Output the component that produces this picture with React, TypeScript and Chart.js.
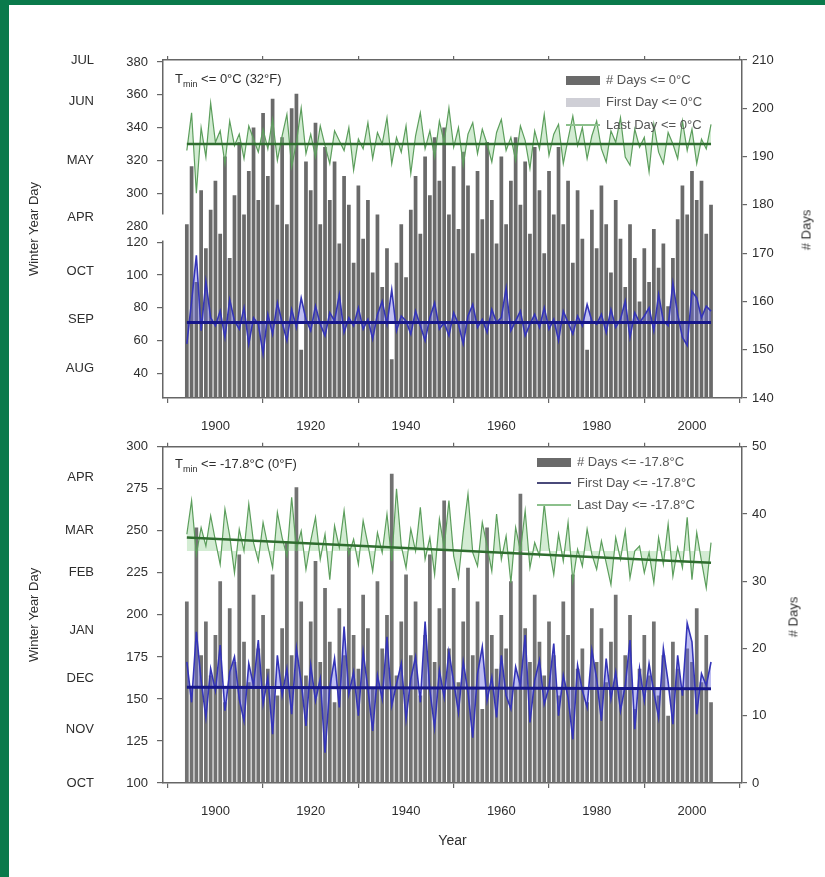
import React, { useEffect, useRef } from "react";
import { Chart, registerables } from "chart.js";
Chart.register(...registerables);

const FIRST_YEAR = 1894;

// Top panel: Tmin <= 0°C
const daysTop = [
  176, 188, 164, 183, 171, 179,
  185, 174, 190, 169, 182, 193, 178, 187, 196, 181,
  199, 186, 202, 180, 194, 176, 200, 203, 150, 189,
  183, 197, 176, 192, 181, 189, 172, 186, 180, 168,
  184, 173, 181, 166, 178, 163, 171, 148, 168, 176,
  165, 179, 186, 174, 190, 182, 194, 185, 196, 178,
  188, 175, 191, 184, 170, 187, 177, 193, 181, 172,
  190, 176, 185, 194, 180, 189, 174, 192, 183, 170,
  187, 178, 192, 176, 185, 168, 183, 173, 150, 179,
  171, 184, 176, 166, 181, 173, 163, 176, 169, 160,
  171, 164, 175, 167, 172, 159, 169, 177, 184, 178,
  187, 181, 185, 174, 180,
];
const lastTop = [
  326, 349, 300, 340, 322, 355,
  331, 338, 318, 344, 329, 336, 321, 341, 333, 325,
  339, 327, 345, 320, 335, 348, 316, 331, 352, 324,
  336, 322, 341, 329, 318, 338, 332, 326, 340, 314,
  333, 327, 343, 321, 337, 330, 346, 318, 334, 325,
  341, 312, 335, 349, 327, 338, 322, 344, 331, 352,
  328, 340, 317, 336, 343, 324, 339, 330, 319, 337,
  345, 326, 334, 320, 341, 332, 315, 338, 327, 348,
  323, 336, 342, 318, 333, 347, 329, 340, 321, 335,
  344, 327, 319, 338, 331, 346, 322, 317, 339, 328,
  334, 313, 342, 325, 318, 337, 330, 321, 344, 326,
  339, 318, 333, 327, 342,
];
const firstTop = [
  58, 84, 112, 66, 96, 74,
  69, 78, 62, 85, 72, 67, 80, 58, 74, 70,
  52, 76, 64, 83, 71, 60, 79, 68, 86, 73,
  66, 81, 70, 63, 77, 72, 88, 65, 74, 69,
  80, 67, 73, 61, 76, 84, 70, 91, 66, 75,
  72, 64, 78, 69, 60, 74, 83, 67, 71, 63,
  77, 70, 58, 75, 82, 68, 73, 65, 79, 71,
  74, 92, 66, 72, 78, 63, 70, 76, 68, 80,
  67, 73, 60, 78, 71, 64, 75, 69, 82, 72,
  70, 76, 65, 79, 68, 73, 84, 62, 77, 71,
  75, 80, 66, 88, 72, 69, 95, 76, 62, 57,
  90, 86, 74, 81, 78,
];

// Bottom panel: Tmin <= -17.8°C
const daysBot = [
  27, 14, 38, 19, 24, 16,
  22, 30, 12, 26, 18, 34, 21, 15, 28, 20,
  25, 17, 31, 13, 23, 36, 19, 44, 27, 16,
  24, 33, 18, 29, 21, 12, 26, 19, 35, 22,
  17, 28, 23, 14, 30, 20, 25, 46, 16, 24,
  31, 19, 27, 13, 22, 34, 18, 26, 42, 20,
  29, 15, 24, 32, 19, 27, 11, 38, 22, 17,
  25, 20, 30, 14, 43, 23, 18, 28, 21, 16,
  24, 19, 13, 27, 22, 31, 17, 20, 12, 26,
  18, 23, 15, 21, 28, 14, 19, 25, 11, 17,
  22, 16, 24, 13, 19, 10, 21, 17, 14, 20,
  18, 26, 15, 22, 12,
];
const lastBot = [
  248, 268, 236, 252, 241, 259,
  244, 230, 263, 247, 225, 251, 238, 266, 243, 232,
  255, 241, 228, 261, 246, 235, 270, 239, 250, 227,
  244, 258, 233, 248, 221, 253, 240, 262, 236, 245,
  230, 256, 242, 226, 249, 237, 260, 232, 275, 241,
  228, 251, 238, 264, 233, 246, 224, 257, 240, 268,
  235, 222, 249, 272, 237, 229, 255, 241, 226, 260,
  233, 247, 219, 252, 238, 262, 228, 243, 235, 266,
  240, 224, 248, 232, 255, 220, 239, 229, 251, 236,
  227, 244, 231, 218, 246, 233, 250, 222, 238, 241,
  225, 237, 219, 246, 230, 254, 223, 240, 228, 258,
  221, 249, 232, 216, 243,
];
const firstBot = [
  172, 148, 190, 161, 139, 168,
  155, 182, 143, 166, 175, 150, 137, 171, 158, 185,
  147, 163, 129, 176, 152, 168, 141, 180, 160, 134,
  170, 149, 162, 118, 157, 174, 145, 193, 153, 166,
  140, 178, 156, 131, 164, 150, 187, 146, 159, 171,
  138, 162, 175, 148, 196, 155, 133, 167, 151, 178,
  160, 142, 172, 154, 127, 165, 181, 149, 163, 139,
  176, 152, 144, 169, 158, 188, 136, 161, 173, 147,
  157, 183, 140, 164, 151, 126, 170, 155, 145, 179,
  162, 137, 174, 150, 166, 143, 158, 185, 132, 168,
  149, 171, 154, 139, 180, 160, 135, 176, 152, 195,
  184, 141, 165, 158, 172,
];

const years = daysTop.map((_, i) => FIRST_YEAR + i);
const trendYears = [1894, 2004];
const topLastTrend = [330, 330];
const topFirstTrend = [71, 71];
const botLastTrend = [246, 231];
const botFirstTrend = [157, 156];

const xTickYears = [1900, 1920, 1940, 1960, 1980, 2000];
const topUpperTicks = [280, 300, 320, 340, 360, 380];
const topLowerTicks = [40, 60, 80, 100, 120];
const topMonthNames = ["JUL", "JUN", "MAY", "APR", "OCT", "SEP", "AUG"];
const topMonthDays = [381, 356, 320, 285, 102, 73, 43];
const botMonthNames = ["APR", "MAR", "FEB", "JAN", "DEC", "NOV", "OCT"];
const botMonthDays = [282, 250, 225, 191, 162, 132, 100];

const X_MIN = 1889;
const X_MAX = 2010.5;
const TOP_LOW_MIN = 25;
const TOP_SPAN = 206.1;
const TOP_HIGH_MIN = 175.1;
const OFFSET = TOP_HIGH_MIN - TOP_LOW_MIN;
const BREAK_HIGH = 287;
const BREAK_LOW = 121;

const FONT = "'Liberation Sans', Arial, sans-serif";
const TXT = "#2e2e2e";
const AXIS = "#666";

const pts = (xs: number[], ys: number[]) => xs.map((x, i) => ({ x, y: ys[i] }));

function xScales(withTitle: boolean, bottomHeight: number) {
  return {
    x: {
      type: "linear",
      position: "bottom",
      min: X_MIN,
      max: X_MAX,
      offset: false,
      afterBuildTicks: (s: any) => {
        s.ticks = xTickYears.map((v) => ({ value: v }));
      },
      afterFit: (s: any) => {
        s.height = bottomHeight;
      },
      ticks: {
        callback: (v: any) => String(v),
        font: { size: 13, family: FONT },
        color: TXT,
        padding: 16,
        maxRotation: 0,
      },
      grid: { drawOnChartArea: false, tickLength: 5, color: AXIS, lineWidth: 1.2 },
      border: { color: AXIS, width: 1.5 },
      title: withTitle
        ? { display: true, text: "Year", font: { size: 14, family: FONT }, color: TXT, padding: { top: 0, bottom: 4 } }
        : { display: false },
    },
    x2: {
      type: "linear",
      position: "top",
      min: X_MIN,
      max: X_MAX,
      offset: false,
      afterBuildTicks: (s: any) => {
        s.ticks = xTickYears.map((v) => ({ value: v }));
      },
      afterFit: (s: any) => {
        s.height = 6;
      },
      ticks: { display: false },
      grid: { drawOnChartArea: false, tickLength: 4, color: AXIS, lineWidth: 1.2 },
      border: { color: AXIS, width: 1.5 },
    },
  };
}

function lineDs(data: any[], axis: string, color: string, width: number, fill: any, bg: string, order: number) {
  return {
    type: "line",
    data,
    yAxisID: axis,
    xAxisID: "x",
    borderColor: color,
    borderWidth: width,
    backgroundColor: bg,
    fill,
    pointRadius: 0,
    tension: 0,
    order,
  };
}

function barDs(data: any[], axis: string, color: string) {
  return {
    type: "bar",
    data,
    yAxisID: axis,
    xAxisID: "x",
    backgroundColor: color,
    barPercentage: 0.78,
    categoryPercentage: 1,
    order: 10,
  };
}

const axisBreak = {
  id: "axisBreak",
  afterDraw(chart: any) {
    const a = chart.chartArea;
    const hi = chart.scales.yHigh;
    const lo = chart.scales.yLow;
    if (!hi || !lo) return;
    const y1 = hi.getPixelForValue(BREAK_HIGH);
    const y2 = lo.getPixelForValue(BREAK_LOW);
    const ctx = chart.ctx;
    ctx.save();
    ctx.fillStyle = "#fff";
    ctx.fillRect(a.left - 8, y1, 9.5, y2 - y1);
    ctx.restore();
  },
};

function topConfig(): any {
  return {
    type: "bar",
    data: {
      datasets: [
        lineDs(pts(trendYears, topLastTrend), "yHigh", "#2f6d2f", 2.5, false, "transparent", 0),
        lineDs(pts(trendYears, topFirstTrend), "yLow", "#16168a", 3, false, "transparent", 0),
        lineDs(pts(years, lastTop), "yHigh", "#5c9e5c", 1.2, { value: topLastTrend[0] }, "rgba(140,205,140,0.38)", 1),
        lineDs(pts(years, firstTop), "yLow", "#3434b8", 1.6, { value: topFirstTrend[0] }, "rgba(100,100,225,0.4)", 1),
        barDs(pts(years, daysTop), "yR", "#6a6a6a"),
      ],
    },
    plugins: [axisBreak],
    options: {
      responsive: false,
      animation: false,
      layout: { padding: { left: 23, top: 54, right: 0, bottom: 0 } },
      plugins: { legend: { display: false }, tooltip: { enabled: false } },
      scales: {
        ...xScales(false, 42),
        yLow: { type: "linear", display: false, min: TOP_LOW_MIN, max: TOP_LOW_MIN + TOP_SPAN },
        yHigh: {
          type: "linear",
          position: "left",
          weight: 0,
          min: TOP_HIGH_MIN,
          max: TOP_HIGH_MIN + TOP_SPAN,
          afterBuildTicks: (s: any) => {
            s.ticks = topUpperTicks
              .map((v) => ({ value: v }))
              .concat(topLowerTicks.map((v) => ({ value: v + OFFSET })));
          },
          afterFit: (s: any) => {
            s.width = 58;
          },
          ticks: {
            callback: (v: any) => String(Math.round(v >= 275 ? v : v - OFFSET)),
            font: { size: 13, family: FONT },
            color: TXT,
            padding: 9,
          },
          grid: { drawOnChartArea: false, tickLength: 6, color: AXIS, lineWidth: 1.2 },
          border: { color: AXIS, width: 1.5 },
        },
        yMonth: {
          type: "linear",
          position: "left",
          weight: 1,
          min: TOP_HIGH_MIN,
          max: TOP_HIGH_MIN + TOP_SPAN,
          afterBuildTicks: (s: any) => {
            s.ticks = topMonthDays.map((v) => ({ value: v >= 275 ? v : v + OFFSET }));
          },
          afterFit: (s: any) => {
            s.width = 82;
          },
          ticks: {
            callback: (_v: any, i: number) => topMonthNames[i],
            font: { size: 13, family: FONT },
            color: TXT,
            padding: 3,
          },
          grid: { display: false },
          border: { display: false },
          title: {
            display: true,
            text: "Winter Year Day",
            font: { size: 13, family: FONT },
            color: TXT,
            padding: { top: 4, bottom: 0 },
          },
        },
        yR: {
          type: "linear",
          position: "right",
          min: 140,
          max: 210,
          afterFit: (s: any) => {
            s.width = 83;
          },
          ticks: { stepSize: 10, font: { size: 13, family: FONT }, color: TXT, padding: 5 },
          grid: { drawOnChartArea: false, tickLength: 5, color: AXIS, lineWidth: 1.2 },
          border: { color: AXIS, width: 1.5 },
        },
      },
    },
  };
}

function botConfig(): any {
  return {
    type: "bar",
    data: {
      datasets: [
        lineDs(pts(trendYears, botLastTrend), "y", "#2f6d2f", 2.5, false, "transparent", 0),
        lineDs(pts(trendYears, botFirstTrend), "y", "#16168a", 3, false, "transparent", 0),
        lineDs(pts(years, lastBot), "y", "#5c9e5c", 1.2, { value: 238 }, "rgba(140,205,140,0.38)", 1),
        lineDs(pts(years, firstBot), "y", "#3434b8", 1.6, { value: botFirstTrend[0] }, "rgba(100,100,225,0.42)", 1),
        barDs(pts(years, daysBot), "yR", "#727272"),
      ],
    },
    options: {
      responsive: false,
      animation: false,
      layout: { padding: { left: 23, top: 9, right: 0, bottom: 23 } },
      plugins: { legend: { display: false }, tooltip: { enabled: false } },
      scales: {
        ...xScales(true, 71),
        y: {
          type: "linear",
          position: "left",
          weight: 0,
          min: 100,
          max: 300,
          afterFit: (s: any) => {
            s.width = 58;
          },
          ticks: { stepSize: 25, font: { size: 13, family: FONT }, color: TXT, padding: 9 },
          grid: { drawOnChartArea: false, tickLength: 6, color: AXIS, lineWidth: 1.2 },
          border: { color: AXIS, width: 1.5 },
        },
        yMonth: {
          type: "linear",
          position: "left",
          weight: 1,
          min: 100,
          max: 300,
          afterBuildTicks: (s: any) => {
            s.ticks = botMonthDays.map((v) => ({ value: v }));
          },
          afterFit: (s: any) => {
            s.width = 82;
          },
          ticks: {
            callback: (_v: any, i: number) => botMonthNames[i],
            font: { size: 13, family: FONT },
            color: TXT,
            padding: 3,
          },
          grid: { display: false },
          border: { display: false },
          title: {
            display: true,
            text: "Winter Year Day",
            font: { size: 13, family: FONT },
            color: TXT,
            padding: { top: 4, bottom: 0 },
          },
        },
        yR: {
          type: "linear",
          position: "right",
          min: 0,
          max: 50,
          afterFit: (s: any) => {
            s.width = 83;
          },
          ticks: { stepSize: 10, font: { size: 13, family: FONT }, color: TXT, padding: 5 },
          grid: { drawOnChartArea: false, tickLength: 5, color: AXIS, lineWidth: 1.2 },
          border: { color: AXIS, width: 1.5 },
        },
      },
    },
  };
}

function ChartCanvas({ top, height, make }: { top: number; height: number; make: () => any }) {
  const ref = useRef<HTMLCanvasElement | null>(null);
  useEffect(() => {
    if (!ref.current) return;
    const chart = new Chart(ref.current, make());
    return () => chart.destroy();
  }, []);
  return (
    <canvas
      ref={ref}
      width={825}
      height={height}
      style={{ position: "absolute", left: 0, top, width: 825, height }}
    />
  );
}

const legendText: React.CSSProperties = {
  position: "absolute",
  fontFamily: FONT,
  fontSize: 13,
  color: "#555",
  whiteSpace: "nowrap",
  lineHeight: "14px",
};

function LegendItem({ x, y, kind, color, label }: { x: number; y: number; kind: string; color: string; label: string }) {
  return (
    <div style={{ ...legendText, left: x, top: y - 7, display: "flex", alignItems: "center" }}>
      {kind === "box" ? (
        <span style={{ display: "inline-block", width: 34, height: 9, background: color, marginRight: 6 }} />
      ) : (
        <span style={{ display: "inline-block", width: 34, height: 2, background: color, marginRight: 6 }} />
      )}
      <span>{label}</span>
    </div>
  );
}

const titleStyle: React.CSSProperties = {
  position: "absolute",
  fontFamily: FONT,
  fontSize: 13,
  color: TXT,
  whiteSpace: "nowrap",
};

export default function App() {
  return (
    <div
      style={{
        position: "fixed",
        left: 0,
        top: 0,
        width: 825,
        height: 877,
        background: "#fff",
        overflow: "hidden",
      }}
    >
      <ChartCanvas top={0} height={440} make={topConfig} />
      <ChartCanvas top={430} height={447} make={botConfig} />

      <div style={{ ...titleStyle, left: 175, top: 71 }}>
        T<sub style={{ fontSize: 9 }}>min</sub> &lt;= 0°C (32°F)
      </div>
      <div style={{ ...titleStyle, left: 175, top: 456 }}>
        T<sub style={{ fontSize: 9 }}>min</sub> &lt;= -17.8°C (0°F)
      </div>

      <LegendItem x={566} y={80} kind="box" color="#6a6a6a" label="# Days <= 0°C" />
      <LegendItem x={566} y={102} kind="box" color="#cfcfd6" label="First Day <= 0°C" />
      <LegendItem x={566} y={125} kind="line" color="#8cc08c" label="Last Day <= 0°C" />

      <LegendItem x={537} y={462} kind="box" color="#6a6a6a" label="# Days <= -17.8°C" />
      <LegendItem x={537} y={483} kind="line" color="#4a4a7a" label="First Day <= -17.8°C" />
      <LegendItem x={537} y={505} kind="line" color="#8cc08c" label="Last Day <= -17.8°C" />

      <div
        style={{
          ...titleStyle,
          left: 806,
          top: 230,
          transform: "translate(-50%, -50%) rotate(-90deg)",
        }}
      >
        # Days
      </div>
      <div
        style={{
          ...titleStyle,
          left: 793,
          top: 617,
          transform: "translate(-50%, -50%) rotate(-90deg)",
        }}
      >
        # Days
      </div>

      <div style={{ position: "absolute", left: 0, top: 0, width: 9, height: 877, background: "#0a7a4b" }} />
      <div style={{ position: "absolute", left: 0, top: 0, width: 825, height: 5, background: "#0a7a4b" }} />
    </div>
  );
}
